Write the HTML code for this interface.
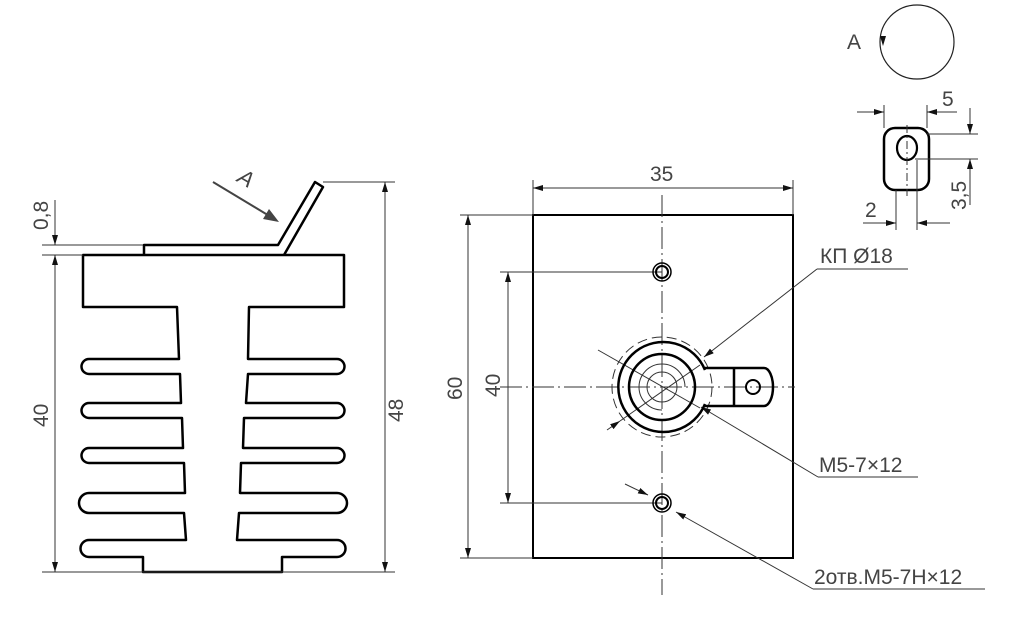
<!DOCTYPE html>
<html><head><meta charset="utf-8"><style>
html,body{margin:0;padding:0;background:#fff;}
svg{display:block;}
text{font-family:"Liberation Sans",sans-serif;fill:#444;}
</style></head><body>
<svg width="1024" height="624" viewBox="0 0 1024 624" xmlns="http://www.w3.org/2000/svg">
<defs>
<marker id="ar" viewBox="0 0 10 6" refX="10" refY="3" markerWidth="10" markerHeight="6" orient="auto-start-reverse" markerUnits="userSpaceOnUse"><path d="M0,0 L10,3 L0,6 Z" fill="#111"/></marker>
</defs>
<!-- LEFT VIEW -->
<g fill="none" stroke="#000" stroke-width="2.5" stroke-linejoin="round">
<path d="M83,255 H344 V307 H249 L248,359 H337 A7.5,7.5 0 0 1 337,374 H248 L246,403 H337 A7.5,7.5 0 0 1 337,418 H244 L243,448 H337 A7.5,7.5 0 0 1 337,463 H241 L240,493 H337 A10,10 0 0 1 337,513 H239 L237,540 H337 A8.5,8.5 0 0 1 337,557 H282 V572 H143 V557 H89 A8.5,8.5 0 0 1 89,540 H186 L184,513 H89 A10,10 0 0 1 89,493 H185 L184,463 H89 A7.5,7.5 0 0 1 89,448 H183 L182,418 H89 A7.5,7.5 0 0 1 89,403 H181 L180,374 H89 A7.5,7.5 0 0 1 89,359 H179 L177,307 H83 Z"/>
<path d="M144,255 V245 H278 L315,182 L323,187 L284,255"/>
</g>
<g stroke="#333" stroke-width="1" fill="none">
<line x1="42" y1="245" x2="143" y2="245"/>
<line x1="42" y1="255" x2="83" y2="255"/>
<line x1="42" y1="572" x2="395" y2="572"/>
<line x1="323" y1="182" x2="395" y2="182"/>
<line x1="55" y1="200" x2="55" y2="245" marker-end="url(#ar)"/>
<line x1="55" y1="255" x2="55" y2="572" marker-start="url(#ar)" marker-end="url(#ar)"/>
<line x1="385" y1="182" x2="385" y2="572" marker-start="url(#ar)" marker-end="url(#ar)"/>
</g>
<line x1="213" y1="182" x2="276" y2="220" stroke="#444" stroke-width="2"/>
<path d="M279,222 L263,219 L269,209 Z" fill="#444"/>
<text x="0" y="0" font-size="22" transform="translate(236,181) rotate(30)" font-style="italic">A</text>
<text font-size="21" transform="translate(48,230) rotate(-90)">0,8</text>
<text font-size="21" transform="translate(48,427) rotate(-90)">40</text>
<text font-size="21" transform="translate(403,422) rotate(-90)">48</text>

<!-- MIDDLE VIEW -->
<g fill="none" stroke="#000" stroke-width="2">
<rect x="533" y="215" width="260" height="343" stroke-width="2"/>
</g>
<g stroke="#333" stroke-width="1" fill="none">
<line x1="662" y1="195" x2="662" y2="595" stroke-dasharray="22,4,2,4"/>
<line x1="500" y1="387" x2="795" y2="387" stroke-dasharray="22,4,2,4"/>
<line x1="533" y1="215" x2="533" y2="180"/>
<line x1="793" y1="215" x2="793" y2="180"/>
<line x1="533" y1="188" x2="793" y2="188" marker-start="url(#ar)" marker-end="url(#ar)"/>
<line x1="533" y1="215" x2="460" y2="215"/>
<line x1="533" y1="558" x2="460" y2="558"/>
<line x1="468" y1="215" x2="468" y2="558" marker-start="url(#ar)" marker-end="url(#ar)"/>
<line x1="500" y1="272" x2="662" y2="272"/>
<line x1="500" y1="503" x2="662" y2="503"/>
<line x1="508" y1="272" x2="508" y2="503" marker-start="url(#ar)" marker-end="url(#ar)"/>
<circle cx="662" cy="387" r="50" stroke-dasharray="10,5"/>
<circle cx="662" cy="387" r="15"/>
<path d="M685,387 A23,23 0 1 0 662,410"/>
<line x1="598" y1="350" x2="700" y2="408"/>
<line x1="607" y1="430" x2="620" y2="421" marker-end="url(#ar)"/>
<line x1="620" y1="421" x2="700" y2="365"/>
<line x1="817" y1="269" x2="908" y2="269"/>
<line x1="817" y1="269" x2="704" y2="357" marker-end="url(#ar)"/>
<line x1="818" y1="477" x2="918" y2="477"/>
<line x1="818" y1="477" x2="701" y2="407" marker-end="url(#ar)"/>
<line x1="813" y1="589" x2="985" y2="589"/>
<line x1="813" y1="589" x2="676" y2="512" marker-end="url(#ar)"/>
<line x1="625" y1="484" x2="648" y2="495" marker-end="url(#ar)"/>
</g>
<g fill="none" stroke="#000" stroke-width="2.5">
<circle cx="662" cy="387" r="33"/>
<path d="M705,370 A45,45 0 1 0 705,404"/>
<path d="M705,368 H764 A9,19 0 0 1 764,406 H705"/>
<line x1="734" y1="368" x2="734" y2="406"/>
<circle cx="753" cy="387" r="7" stroke-width="2"/>
<circle cx="662" cy="272" r="9" stroke-width="1.5"/>
<circle cx="662" cy="272" r="6" stroke-width="2"/>
<circle cx="662" cy="503" r="9" stroke-width="1.5"/>
<circle cx="662" cy="503" r="6" stroke-width="2"/>
</g>
<text x="650" y="181" font-size="21">35</text>
<text font-size="21" transform="translate(462,400) rotate(-90)">60</text>
<text font-size="21" transform="translate(500,397) rotate(-90)">40</text>
<text x="820" y="263" font-size="21">КП Ø18</text>
<text x="819" y="472" font-size="21">M5-7×12</text>
<text x="814" y="584" font-size="21">2отв.M5-7H×12</text>

<!-- TOP RIGHT -->
<circle cx="917" cy="42" r="37" fill="none" stroke="#222" stroke-width="1.2"/>
<path d="M880,36 L886,36 L883,46 Z" fill="#111"/>
<text x="847" y="49" font-size="21">A</text>
<rect x="884" y="128" width="45" height="62" rx="11" fill="none" stroke="#000" stroke-width="2.5"/>
<ellipse cx="907" cy="148" rx="10" ry="12" fill="none" stroke="#000" stroke-width="2.2"/>
<g stroke="#333" stroke-width="1" fill="none">
<line x1="907" y1="125" x2="907" y2="196" stroke-dasharray="8,3,2,3"/>
<line x1="884" y1="128" x2="884" y2="105"/>
<line x1="927" y1="128" x2="927" y2="105"/>
<line x1="857" y1="112" x2="884" y2="112" marker-end="url(#ar)"/>
<line x1="957" y1="112" x2="927" y2="112" marker-end="url(#ar)"/>
<line x1="927" y1="134" x2="978" y2="134"/>
<line x1="915" y1="159" x2="978" y2="159"/>
<line x1="970" y1="108" x2="970" y2="134" marker-end="url(#ar)"/>
<line x1="970" y1="205" x2="970" y2="159" marker-end="url(#ar)"/>
<line x1="896" y1="190" x2="896" y2="230"/>
<line x1="917" y1="160" x2="917" y2="230"/>
<line x1="863" y1="223" x2="896" y2="223" marker-end="url(#ar)"/>
<line x1="950" y1="223" x2="917" y2="223" marker-end="url(#ar)"/>
</g>
<text x="942" y="106" font-size="21">5</text>
<text x="865" y="217" font-size="21">2</text>
<text font-size="21" transform="translate(966,210) rotate(-90)">3,5</text>
</svg>
</body></html>
